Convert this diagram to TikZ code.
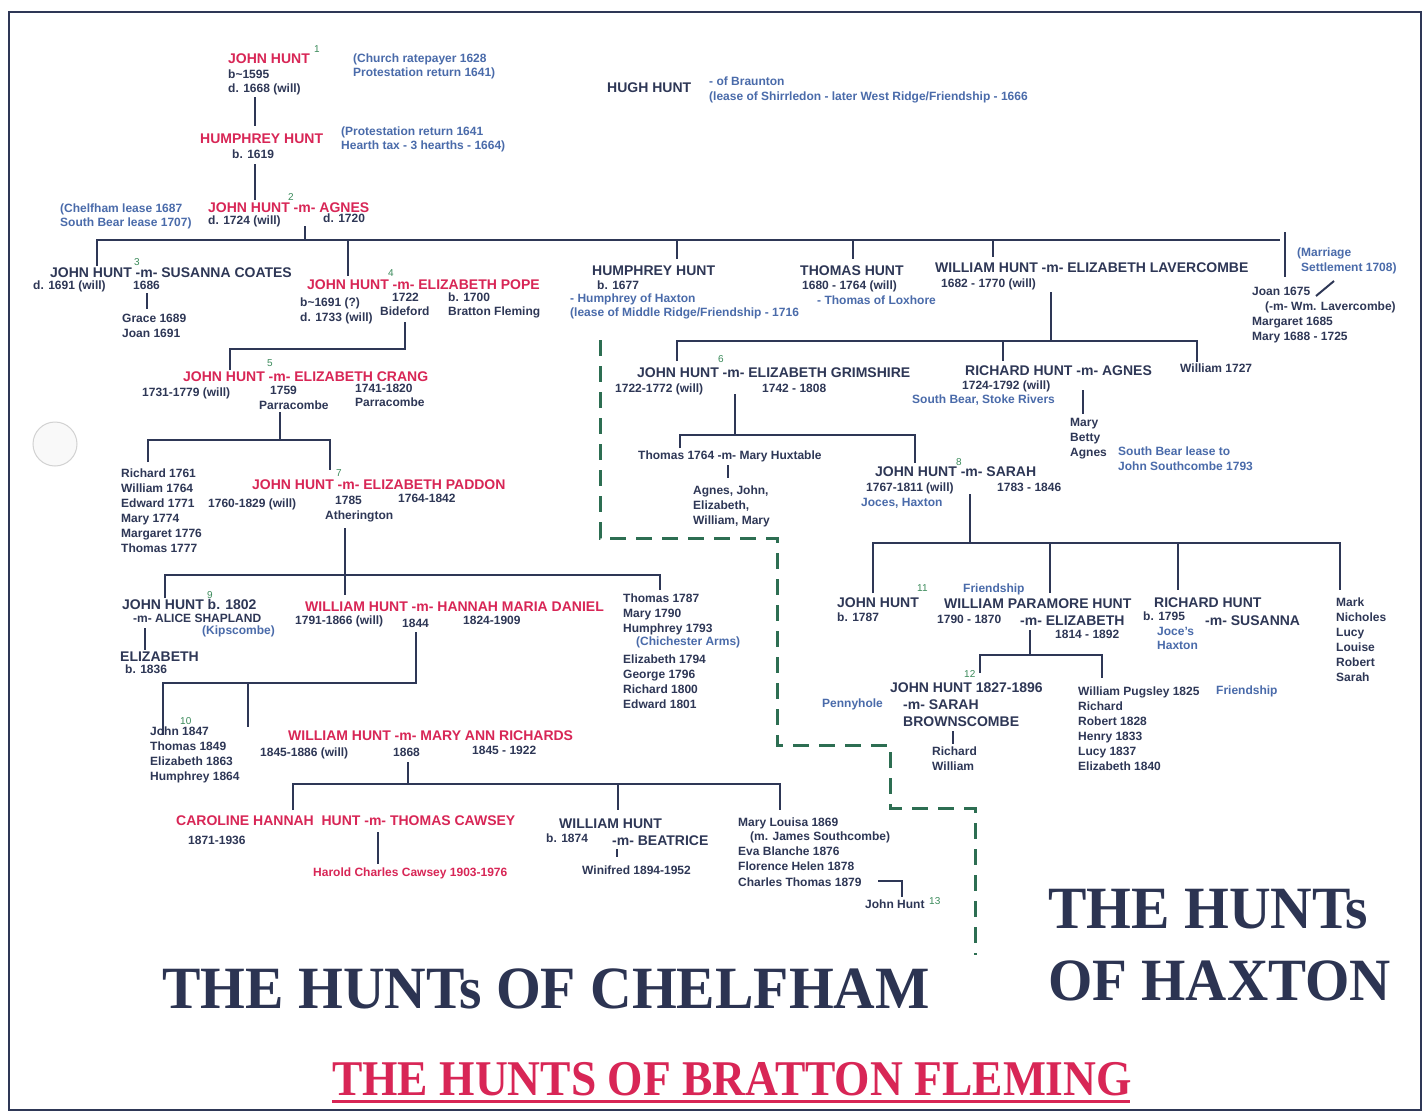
\documentclass[tikz,border=0pt]{standalone}
\usepackage{fontspec}
\setmainfont{Liberation Sans}
\newfontfamily\ttlfont{Liberation Serif}
\definecolor{navy}{HTML}{2E3756}
\definecolor{tnavy}{HTML}{2C3452}
\definecolor{crim}{HTML}{D82656}
\definecolor{bnote}{HTML}{4A6BAA}
\definecolor{grn}{HTML}{3A8A5A}
\definecolor{dgrn}{HTML}{2D6E52}
\begin{document}
\begin{tikzpicture}[x=1pt,y=-1pt,
 nm/.style={inner sep=0pt, anchor=base west, text=navy, font=\bfseries\fontsize{14}{16}\selectfont},
 rnm/.style={nm, text=crim},
 sm/.style={inner sep=0pt, anchor=base west, text=navy, font=\bfseries\fontsize{12}{13}\selectfont},
 rsm/.style={sm, text=crim},
 note/.style={sm, text=bnote},
 num/.style={inner sep=0pt, anchor=base west, text=grn, font=\fontsize{10}{12}\selectfont},
 ln/.style={draw=navy, line width=2.7pt},
 gd/.style={draw=dgrn, line width=3pt, dash pattern=on 16pt off 10pt},
 ttl/.style={inner sep=0pt, anchor=base west, text=tnavy, font=\ttlfont\bfseries\fontsize{60}{60}\selectfont},
 rttl/.style={ttl, text=crim, font=\ttlfont\bfseries\fontsize{50}{50}\selectfont}
]
% canvas and frame
\fill[white] (0,0) rectangle (1426,1117);
\useasboundingbox (0,0) rectangle (1426,1117);
\draw[navy, line width=2pt] (9,12) rectangle (1421,1110);
\draw[gray!35, fill=gray!5, line width=1pt] (55,444) circle (22);

% ---------- top ----------
\node[rnm] (jh1) at (228,63) {JOHN HUNT};
\node[num] (n1) at (314,52) {1};
\node[sm] (jh1b) at (228,78) {b\textasciitilde1595};
\node[sm] (jh1d) at (228,92) {d. 1668 (will)};
\node[note] (jh1n1) at (353,62) {(Church ratepayer 1628};
\node[note] (jh1n2) at (353,76) {Protestation return 1641)};
\draw[ln] (255,97) -- (255,126);

\node[rnm] (hh1) at (200,143) {HUMPHREY HUNT};
\node[sm] (hh1b) at (232,158) {b. 1619};
\node[note] (hh1n1) at (341,135) {(Protestation return 1641};
\node[note] (hh1n2) at (341,149) {Hearth tax - 3 hearths - 1664)};
\draw[ln] (255,164) -- (255,200);

\node[rnm] (jh2) at (208,212) {JOHN HUNT -m- AGNES};
\node[num] (n2) at (288,200) {2};
\node[sm] (jh2d) at (208,224) {d. 1724 (will)};
\node[sm] (agd) at (323,222) {d. 1720};
\node[note] (jh2n1) at (60,212) {(Chelfham lease 1687};
\node[note] (jh2n2) at (60,226) {South Bear lease 1707)};

\node[nm] (hugh) at (607,92) {HUGH HUNT};
\node[note] (hughn1) at (709,85) {- of Braunton};
\node[note] (hughn2) at (709,100) {(lease of Shirrledon - later West Ridge/Friendship - 1666};

% main bar
\draw[ln] (305,226) -- (305,240);
\draw[ln] (97,266) -- (97,240) -- (1280,240);
\draw[ln] (348,240) -- (348,276);
\draw[ln] (677,240) -- (677,259);
\draw[ln] (853,240) -- (853,259);
\draw[ln] (993,240) -- (993,257);
\draw[ln] (1285,232) -- (1285,277);

% ---------- row 2 ----------
\node[nm] (jh3) at (50,277) {JOHN HUNT -m- SUSANNA COATES};
\node[num] (n3) at (134,265) {3};
\node[sm] (jh3d) at (33,289) {d. 1691 (will)};
\node[sm] (jh3m) at (133,289) {1686};
\draw[ln] (147,293) -- (147,309);
\node[sm] (grace) at (122,322) {Grace 1689};
\node[sm] (joan1) at (122,337) {Joan 1691};

\node[rnm] (jh4) at (307,289) {JOHN HUNT -m- ELIZABETH POPE};
\node[num] (n4) at (388,276) {4};
\node[sm] (jh4b) at (300,306) {b\textasciitilde1691 (?)};
\node[sm] (jh4d) at (300,321) {d. 1733 (will)};
\node[sm] (jh4m) at (392,301) {1722};
\node[sm] (jh4p) at (380,315) {Bideford};
\node[sm] (epb) at (448,301) {b. 1700};
\node[sm] (epp) at (448,315) {Bratton Fleming};
\draw[ln] (405,322) -- (405,349) -- (230,349) -- (230,370);

\node[nm] (hh2) at (592,275) {HUMPHREY HUNT};
\node[sm] (hh2b) at (597,289) {b. 1677};
\node[note] (hh2n1) at (570,302) {- Humphrey of Haxton};
\node[note] (hh2n2) at (570,316) {(lease of Middle Ridge/Friendship - 1716};

\node[nm] (th) at (800,275) {THOMAS HUNT};
\node[sm] (thd) at (802,289) {1680 - 1764 (will)};
\node[note] (thn) at (817,304) {- Thomas of Loxhore};

\node[nm] (wh) at (935,272) {WILLIAM HUNT -m- ELIZABETH LAVERCOMBE};
\node[sm] (whd) at (941,287) {1682 - 1770 (will)};
\draw[ln] (1051,292) -- (1051,341);
\draw[ln] (677,361) -- (677,341) -- (1197,341) -- (1197,362);
\draw[ln] (1003,341) -- (1003,361);

\node[note] (msn1) at (1297,256) {(Marriage};
\node[note] (msn2) at (1301,271) {Settlement 1708)};
\draw[navy, line width=2pt] (1334,281) -- (1316,296);
\node[sm] (joan2) at (1252,295) {Joan 1675};
\node[sm] (joanm) at (1265,310) {(-m- Wm. Lavercombe)};
\node[sm] (marg) at (1252,325) {Margaret 1685};
\node[sm] (mary1) at (1252,340) {Mary 1688 - 1725};

% ---------- row 3 ----------
\node[rnm] (jh5) at (183,381) {JOHN HUNT -m- ELIZABETH CRANG};
\node[num] (n5) at (267,366) {5};
\node[sm] (jh5d) at (142,396) {1731-1779 (will)};
\node[sm] (jh5m) at (270,394) {1759};
\node[sm] (jh5p) at (259,409) {Parracombe};
\node[sm] (ecd) at (355,392) {1741-1820};
\node[sm] (ecp) at (355,406) {Parracombe};
\draw[ln] (280,412) -- (280,440);
\draw[ln] (148,462) -- (148,440) -- (330,440) -- (330,470);

\node[nm] (jh6) at (637,377) {JOHN HUNT -m- ELIZABETH GRIMSHIRE};
\node[num] (n6) at (718,362) {6};
\node[sm] (jh6d) at (615,392) {1722-1772 (will)};
\node[sm] (egd) at (762,392) {1742 - 1808};
\draw[ln] (735,394) -- (735,435);
\draw[ln] (680,448) -- (680,435) -- (915,435) -- (915,463);

\node[nm] (rh1) at (965,375) {RICHARD HUNT -m- AGNES};
\node[sm] (rh1d) at (962,389) {1724-1792 (will)};
\node[note] (rh1n) at (912,403) {South Bear, Stoke Rivers};
\draw[ln] (1083,390) -- (1083,414);
\node[sm] (mary2) at (1070,426) {Mary};
\node[sm] (betty) at (1070,441) {Betty};
\node[sm] (agnes2) at (1070,456) {Agnes};
\node[note] (sbn1) at (1118,455) {South Bear lease to};
\node[note] (sbn2) at (1118,470) {John Southcombe 1793};
\node[sm] (will27) at (1180,372) {William 1727};

% green dashed boundary
\coordinate (g0) at (600,340);
\coordinate (g1) at (600,538);
\coordinate (g2) at (777,538);
\coordinate (g3) at (777,745);
\coordinate (g4) at (890,745);
\coordinate (g5) at (890,808);
\coordinate (g6) at (975,808);
\coordinate (g7) at (975,955);
\draw[gd] (g0) -- (g1) -- (g2) -- (g3) -- (g4) -- (g5) -- (g6) -- (g7);

% ---------- row 4 left ----------
\node[sm] (c1) at (121,477) {Richard 1761};
\node[sm] (c2) at (121,492) {William 1764};
\node[sm] (c3) at (121,507) {Edward 1771};
\node[sm] (c4) at (121,522) {Mary 1774};
\node[sm] (c5) at (121,537) {Margaret 1776};
\node[sm] (c6) at (121,552) {Thomas 1777};

\node[rnm] (jh7) at (252,489) {JOHN HUNT -m- ELIZABETH PADDON};
\node[num] (n7) at (336,476) {7};
\node[sm] (jh7d) at (208,507) {1760-1829 (will)};
\node[sm] (jh7m) at (335,504) {1785};
\node[sm] (jh7p) at (325,519) {Atherington};
\node[sm] (epd) at (398,502) {1764-1842};
\draw[ln] (345,528) -- (345,595);
\draw[ln] (165,598) -- (165,575) -- (660,575) -- (660,590);

\node[sm] (t1) at (623,602) {Thomas 1787};
\node[sm] (t2) at (623,617) {Mary 1790};
\node[sm] (t3) at (623,632) {Humphrey 1793};
\node[note] (t3n) at (636,645) {(Chichester Arms)};
\node[sm] (t4) at (623,663) {Elizabeth 1794};
\node[sm] (t5) at (623,678) {George 1796};
\node[sm] (t6) at (623,693) {Richard 1800};
\node[sm] (t7) at (623,708) {Edward 1801};

% ---------- row 4 middle ----------
\node[sm] (tmh) at (638,459) {Thomas 1764 -m- Mary Huxtable};
\draw[ln] (728,465) -- (728,478);
\node[sm] (aj1) at (693,494) {Agnes, John,};
\node[sm] (aj2) at (693,509) {Elizabeth,};
\node[sm] (aj3) at (693,524) {William, Mary};

\node[nm] (jh8) at (875,476) {JOHN HUNT -m- SARAH};
\node[num] (n8) at (956,465) {8};
\node[sm] (jh8d) at (866,491) {1767-1811 (will)};
\node[note] (jh8n) at (861,506) {Joces, Haxton};
\node[sm] (sd) at (997,491) {1783 - 1846};
\draw[ln] (970,494) -- (970,543);
\draw[ln] (873,593) -- (873,543) -- (1340,543) -- (1340,590);
\draw[ln] (1050,543) -- (1050,593);
\draw[ln] (1178,543) -- (1178,590);

% ---------- row 5 right ----------
\node[nm] (jh11) at (837,607) {JOHN HUNT};
\node[sm] (jh11b) at (837,621) {b. 1787};
\node[num] (n11) at (917,591) {11};
\node[note] (wpn) at (963,592) {Friendship};
\node[nm] (wph) at (944,608) {WILLIAM PARAMORE HUNT};
\node[sm] (wphd) at (937,623) {1790 - 1870};
\node[nm] (wphm) at (1020,625) {-m- ELIZABETH};
\node[sm] (wphe) at (1055,638) {1814 - 1892};
\draw[ln] (1030,630) -- (1030,655);
\draw[ln] (980,673) -- (980,655) -- (1102,655) -- (1102,678);

\node[nm] (rh2) at (1154,607) {RICHARD HUNT};
\node[sm] (rh2b) at (1143,620) {b. 1795};
\node[note] (rh2n1) at (1157,635) {Joce's};
\node[note] (rh2n2) at (1157,649) {Haxton};
\node[nm] (rh2m) at (1205,625) {-m- SUSANNA};

\node[sm] (m1) at (1336,606) {Mark};
\node[sm] (m2) at (1336,621) {Nicholes};
\node[sm] (m3) at (1336,636) {Lucy};
\node[sm] (m4) at (1336,651) {Louise};
\node[sm] (m5) at (1336,666) {Robert};
\node[sm] (m6) at (1336,681) {Sarah};

\node[num] (n12) at (964,677) {12};
\node[nm] (jh12) at (890,692) {JOHN HUNT 1827-1896};
\node[nm] (jh12m) at (903,709) {-m- SARAH};
\node[nm] (jh12s) at (903,726) {BROWNSCOMBE};
\node[note] (penny) at (822,707) {Pennyhole};
\draw[ln] (953,731) -- (953,744);
\node[sm] (rw1) at (932,755) {Richard};
\node[sm] (rw2) at (932,770) {William};

\node[sm] (p1) at (1078,695) {William Pugsley 1825};
\node[note] (pfr) at (1216,694) {Friendship};
\node[sm] (p2) at (1078,710) {Richard};
\node[sm] (p3) at (1078,725) {Robert 1828};
\node[sm] (p4) at (1078,740) {Henry 1833};
\node[sm] (p5) at (1078,755) {Lucy 1837};
\node[sm] (p6) at (1078,770) {Elizabeth 1840};

% ---------- row 5 left ----------
\node[nm] (jh9) at (122,609) {JOHN HUNT b. 1802};
\node[num] (n9) at (207,598) {9};
\node[sm] (jh9m) at (133,622) {-m- ALICE SHAPLAND};
\node[note] (kip) at (202,634) {(Kipscombe)};
\draw[ln] (145,628) -- (145,650);
\node[nm] (eliz9) at (120,661) {ELIZABETH};
\node[sm] (eliz9b) at (125,673) {b. 1836};

\node[rnm] (wh2) at (305,611) {WILLIAM HUNT -m- HANNAH MARIA DANIEL};
\node[sm] (wh2d) at (295,624) {1791-1866 (will)};
\node[sm] (wh2m) at (402,627) {1844};
\node[sm] (hmd) at (463,624) {1824-1909};
\draw[ln] (416,632) -- (416,683) -- (163,683) -- (163,735);
\draw[ln] (248,683) -- (248,727);

\node[num] (n10) at (180,724) {10};
\node[sm] (j1) at (150,735) {John 1847};
\node[sm] (j2) at (150,750) {Thomas 1849};
\node[sm] (j3) at (150,765) {Elizabeth 1863};
\node[sm] (j4) at (150,780) {Humphrey 1864};

\node[rnm] (wh3) at (288,740) {WILLIAM HUNT -m- MARY ANN RICHARDS};
\node[sm] (wh3d) at (260,756) {1845-1886 (will)};
\node[sm] (wh3m) at (393,756) {1868};
\node[sm] (mard) at (472,754) {1845 - 1922};
\draw[ln] (408,762) -- (408,784);
\draw[ln] (293,810) -- (293,784) -- (780,784) -- (780,810);
\draw[ln] (618,784) -- (618,810);

% ---------- row 6 ----------
\node[rnm] (ch) at (176,825) {CAROLINE HANNAH\ \ HUNT -m- THOMAS CAWSEY};
\node[sm] (chd) at (188,844) {1871-1936};
\draw[ln] (378,832) -- (378,864);
\node[rsm] (hcc) at (313,876) {Harold Charles Cawsey 1903-1976};

\node[nm] (wh4) at (559,828) {WILLIAM HUNT};
\node[sm] (wh4b) at (546,842) {b. 1874};
\node[nm] (wh4m) at (612,845) {-m- BEATRICE};
\draw[ln] (617,849) -- (617,857);
\node[sm] (win) at (582,874) {Winifred 1894-1952};

\node[sm] (ml1) at (738,826) {Mary Louisa 1869};
\node[sm] (ml2) at (750,840) {(m. James Southcombe)};
\node[sm] (ml3) at (738,855) {Eva Blanche 1876};
\node[sm] (ml4) at (738,870) {Florence Helen 1878};
\node[sm] (ml5) at (738,886) {Charles Thomas 1879};
\node[sm] (jh13) at (865,908) {John Hunt};
\node[num] (n13) at (929,904) {13};
\draw[navy, line width=2pt] (878,881) -- (902,881) -- (902,897);

% ---------- titles ----------
\node[ttl] (tchel) at (162,1008) {\scalebox{0.96}[1]{THE HUNTs OF CHELFHAM}};
\node[ttl] (thax1) at (1048,928) {\scalebox{0.96}[1]{THE HUNTs}};
\node[ttl] (thax2) at (1048,1000) {\scalebox{0.95}[1]{OF HAXTON}};
\node[rttl] (tbrat) at (332,1095) {\scalebox{0.91}[1]{THE HUNTS OF BRATTON FLEMING}};
\draw[crim, line width=3pt] (tbrat.base west) ++(0,6) -- ++(798,0);
\end{tikzpicture}
\end{document}
